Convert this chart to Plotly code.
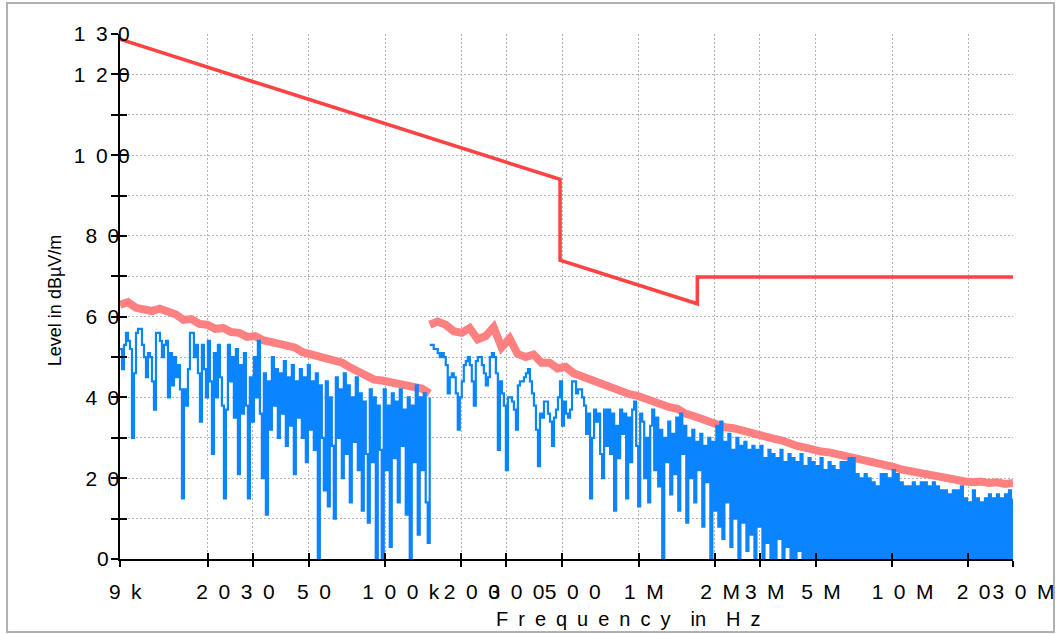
import numpy as np
import plotly.graph_objects as go

E = "\u2002"   # en space: reproduces the wide letter spacing of the original labels
EM = "\u2003"

# ---------------- data ----------------
# Limit line (frequency in Hz, level in dBuV/m)
limit_freq_hz = [9e3, 490e3, 490e3, 1.705e6, 1.705e6, 30e6]
limit_level = [128.7, 94.0, 74.0, 63.2, 69.8, 69.8]

# Peak (max-hold) trace, band A 9 kHz - 150 kHz and band B 150 kHz - 30 MHz
peak_a = [63.0, 63.6, 62.2, 62.0, 61.4, 62.0, 61.2, 60.6, 59.2, 59.4,
          58.2, 58.0, 57.0, 57.2, 56.2, 56.0, 55.0, 55.2, 54.2, 53.8,
          53.2, 53.0, 52.4, 51.2, 50.6, 50.2, 49.4, 49.2, 48.6, 47.4,
          46.4, 45.4, 44.4, 44.2, 43.8, 43.6, 43.0, 42.6, 42.2, 41.0]
peak_b = [58.0, 58.8, 58.0, 56.4, 56.0, 57.2, 54.4, 55.2, 57.4, 52.4,
          54.6, 50.8, 50.0, 50.6, 48.6, 48.6, 47.2, 47.6, 46.0, 45.2,
          44.6, 43.6, 43.2, 42.2, 41.6, 40.8, 40.4, 39.6, 39.0, 38.4,
          37.6, 37.2, 36.0, 35.4, 34.6, 33.8, 33.2, 32.6, 32.4, 31.8,
          31.4, 30.8, 30.4, 29.8, 29.4, 28.6, 28.0, 27.6, 27.0, 26.6,
          26.4, 26.0, 25.6, 25.0, 24.4, 24.0, 23.6, 23.4, 22.8, 22.2,
          21.8, 21.2, 20.8, 20.4, 20.0, 19.6, 19.4, 19.2, 19.0, 19.2,
          18.8, 19.0, 18.6, 18.8]

# Measured trace, band A and band B
meas_a = [52, 47, 53, 56, 54, 52, 30, 46, 56, 57,
          57, 53, 50, 45, 51, 50, 44, 37, 56, 56,
          54, 50, 53, 54, 40, 51, 43, 50, 45, 48,
          42, 15, 42, 38, 47, 56, 56, 50, 53, 46,
          34, 53, 47, 40, 54, 44, 26, 51, 40, 53,
          45, 38, 15, 37, 53, 44, 50, 35, 52, 21,
          48, 36, 51, 38, 15, 45, 34, 50, 40, 54,
          36, 20, 46, 11, 44, 32, 50, 38, 47, 30,
          46, 36, 49, 28, 45, 33, 48, 21, 44, 35,
          47, 30, 45, 24, 48, 32, 44, 27, 46, 0,
          43, 30, 17, 44, 13, 40, 28, 10, 45, 30,
          42, 20, 46, 26, 43, 14, 40, 29, 45, 22,
          41, 12, 39, 26, 9, 42, 24, 40, 0, 38,
          27, 0, 42, 22, 38, 3, 41, 25, 39, 14,
          42, 28, 37, 11, 40, 0, 38, 24, 43, 6,
          40, 22, 41, 14, 4, 40]
meas_b = [53, 53, 52, 52, 51, 50, 51, 50, 48, 41,
          45, 46, 45, 41, 32, 40, 44, 48, 49, 50,
          48, 44, 38, 49, 50, 50, 48, 46, 43, 45,
          50, 51, 50, 46, 27, 44, 41, 38, 22, 40,
          40, 39, 37, 32, 43, 44, 44, 45, 46, 47,
          44, 41, 38, 32, 23, 36, 35, 39, 39, 36,
          34, 28, 35, 37, 40, 44, 33, 39, 36, 35,
          37, 44, 44, 41, 42, 42, 40, 38, 31, 36,
          15, 30, 37, 34, 36, 26, 20, 37, 28, 37,
          26, 36, 12, 33, 25, 37, 31, 36, 15, 35,
          24, 37, 39, 28, 13, 36, 34, 20, 30, 14,
          33, 37, 22, 35, 18, 32, 0, 30, 24, 34,
          16, 31, 21, 35, 12, 36, 26, 33, 9, 30,
          20, 32, 14, 29, 22, 31, 8, 28, 19, 30,
          0, 29, 12, 33, 8, 34, 5, 29, 14, 31,
          3, 27, 10, 30, 0, 28, 9, 29, 2, 27,
          6, 28, 0, 27, 8, 28, 0, 25, 4, 27,
          0, 26, 0, 25, 5, 27, 0, 24, 3, 26,
          0, 25, 0, 24, 2, 26, 0, 23, 0, 25,
          0, 24, 0, 23, 0, 25, 0, 22, 0, 24,
          0, 23, 0, 22, 0, 24, 0, 24, 0, 25,
          0, 25, 0, 21, 0, 20, 0, 21, 0, 20,
          0, 19, 0, 18, 0, 21, 0, 21, 0, 20,
          0, 22, 0, 21, 0, 19, 0, 18, 0, 18,
          0, 19, 0, 18, 0, 19, 0, 19, 0, 18,
          0, 19, 0, 18, 0, 17, 0, 17, 0, 16,
          0, 17, 0, 17, 0, 18, 0, 15, 0, 14,
          0, 17, 0, 15, 0, 14, 0, 15, 0, 16,
          0, 15, 0, 16, 0, 15, 0, 16, 0, 17,
          0, 15]

# band edges (Hz): sweep points are log-spaced between them
band_a = (9e3, 150e3)
band_b = (150e3, 30e6)

x_tick_hz = [9e3, 2e4, 3e4, 5e4, 1e5, 2e5, 3e5, 5e5, 1e6, 2e6, 3e6, 5e6, 1e7, 2e7, 3e7]
x_tick_text = ["9k", "20", "30", "50", "100k", "200", "300", "500",
               "1M", "2M", "3M", "5M", "10M", "20", "30M"]
y_tick_db = [0, 10, 20, 30, 40, 50, 60, 70, 80, 90, 100, 110, 120, 130]
y_tick_text = ["0", "", "20", "", "40", "", "60", "", "80", "", "100", "", "120", "130"]

x_title = "Frequency in Hz"
y_title = "Level in dBµV/m"

# ---------------- figure ----------------
def spaced(s):
    return E.join(list(s))

xt = [E * (len(s) - 1) + spaced(s) for s in x_tick_text]
yt = [(spaced(s) + E * (3 - len(s))) if s else "" for s in y_tick_text]
x_title_txt = spaced("Frequency") + EM + "in" + EM + spaced("Hz")

f_peak_a = np.geomspace(*band_a, len(peak_a))
f_peak_b = np.geomspace(*band_b, len(peak_b))
f_meas_a = np.geomspace(*band_a, len(meas_a))
f_meas_b = np.geomspace(*band_b, len(meas_b))

PINK = "#ff8080"
BLUE = "#0a84ff"
RED = "#ff4242"
FONT = "Liberation Sans, Arial, sans-serif"

fig = go.Figure()
fig.add_trace(go.Scatter(x=f_peak_a, y=peak_a, mode="lines",
                         line=dict(color=PINK, width=8), showlegend=False))
fig.add_trace(go.Scatter(x=f_peak_b, y=peak_b, mode="lines",
                         line=dict(color=PINK, width=8), showlegend=False))
fig.add_trace(go.Scatter(x=f_meas_a, y=meas_a, mode="lines",
                         line=dict(color=BLUE, width=2.2, shape="hv", simplify=False),
                         showlegend=False))
fig.add_trace(go.Scatter(x=f_meas_b, y=meas_b, mode="lines",
                         line=dict(color=BLUE, width=2.2, shape="hv", simplify=False),
                         showlegend=False))
fig.add_trace(go.Scatter(x=limit_freq_hz, y=limit_level, mode="lines",
                         line=dict(color=RED, width=3.5), showlegend=False))
# empty trace to activate the overlay axes used for the inward tick halves
fig.add_trace(go.Scatter(x=[], y=[], xaxis="x2", yaxis="y2", showlegend=False))

xr = [np.log10(9e3), np.log10(3e7)]
tickfont = dict(family=FONT, size=21, color="black")
grid = dict(showgrid=True, gridcolor="#b4b4b4", gridwidth=1, griddash="2px,2px")

fig.update_layout(
    width=1056, height=634,
    margin=dict(l=120, r=43, t=34, b=75, autoexpand=False),
    paper_bgcolor="white", plot_bgcolor="white",
    xaxis=dict(type="log", range=xr, tickvals=x_tick_hz, ticktext=xt, tickangle=0,
               ticks="outside", ticklen=6, tickwidth=2, tickcolor="black",
               showline=True, linecolor="black", linewidth=2, zeroline=False,
               tickfont=tickfont, ticklabelstandoff=7, automargin=False, **grid),
    xaxis2=dict(type="log", range=xr, overlaying="x", anchor="y", side="bottom",
                tickvals=x_tick_hz, ticks="inside", ticklen=6, tickwidth=2,
                tickcolor="black", showticklabels=False, showgrid=False,
                showline=False, zeroline=False, automargin=False),
    yaxis=dict(range=[0, 130], tickvals=y_tick_db, ticktext=yt,
               ticks="outside", ticklen=7, tickwidth=2, tickcolor="black",
               showline=True, linecolor="black", linewidth=2, zeroline=False,
               tickfont=tickfont, ticklabelstandoff=-23, automargin=False, **grid),
    yaxis2=dict(range=[0, 130], overlaying="y", anchor="x", side="left",
                tickvals=y_tick_db, ticks="inside", ticklen=7, tickwidth=2,
                tickcolor="black", showticklabels=False, showgrid=False,
                showline=False, zeroline=False, automargin=False),
    annotations=[
        dict(text=x_title_txt, xref="paper", yref="paper", x=0.569, y=-0.114,
             xanchor="center", yanchor="middle", showarrow=False,
             font=dict(family=FONT, size=20, color="black")),
        dict(text=y_title, xref="paper", yref="paper", x=-0.0728, y=0.493,
             xanchor="center", yanchor="middle", showarrow=False, textangle=-90,
             font=dict(family=FONT, size=18, color="black")),
    ],
    shapes=[dict(type="rect", xref="paper", yref="paper",
                 x0=-0.1265, x1=1.0459, y0=-0.139, y1=1.059,
                 line=dict(color="#b0b0b0", width=2), layer="below")],
)

fig.write_html("out.html")
